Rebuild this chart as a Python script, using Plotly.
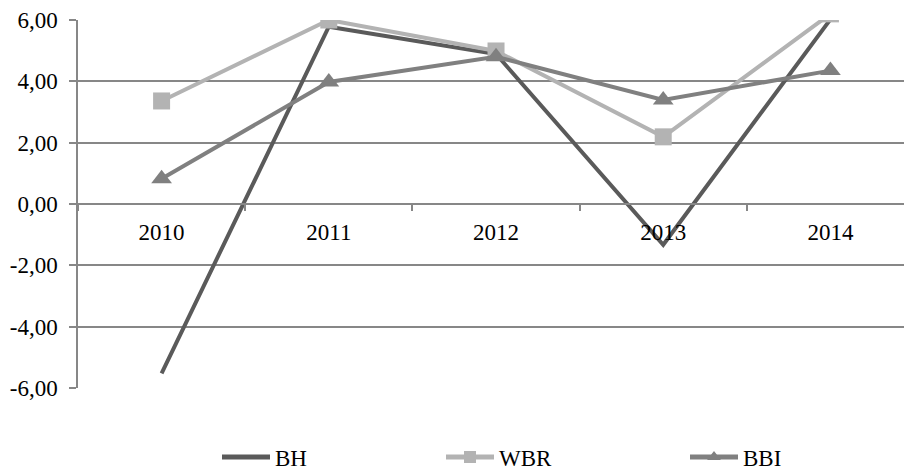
import plotly.graph_objects as go

years = ["2010", "2011", "2012", "2013", "2014"]
bh = [-5.52, 5.78, 4.89, -1.33, 6.02]
wbr = [3.36, 6.0, 4.99, 2.19, 6.2]
bbi = [0.82, 3.98, 4.8, 3.39, 4.35]
y_ticks = [-6, -4, -2, 0, 2, 4, 6]
y_tick_labels = ["-6,00", "-4,00", "-2,00", "0,00", "2,00", "4,00", "6,00"]

FONT = "Liberation Serif"
GRID = "#878787"
W, H = 904, 471
ML, MR, MT, MB = 78, 0, 20, 83
PW, PH = W - ML - MR, H - MT - MB

fig = go.Figure()
fig.add_trace(go.Scatter(x=years, y=bh, name="BH", mode="lines",
                         line=dict(color="#5a5a5a", width=4), legend="legend"))
fig.add_trace(go.Scatter(x=years, y=wbr, name="WBR", mode="lines+markers",
                         line=dict(color="#b3b3b3", width=4),
                         marker=dict(symbol="square", size=17, color="#b3b3b3"),
                         legend="legend2"))
fig.add_trace(go.Scatter(x=years, y=bbi, name="BBI", mode="lines+markers",
                         line=dict(color="#808080", width=4),
                         marker=dict(symbol="triangle-up", size=18, color="#808080"),
                         legend="legend3"))

def lx(px):
    return (px - ML) / PW

def ly(py):
    return (H - MB - py) / PH

leg_common = dict(orientation="h", xanchor="left", yanchor="middle",
                  font=dict(family=FONT, size=23, color="#000000"),
                  itemwidth=48, itemsizing="constant",
                  bgcolor="rgba(0,0,0,0)", borderwidth=0)

fig.update_layout(
    width=W, height=H,
    margin=dict(l=ML, r=MR, t=MT, b=MB, autoexpand=False),
    paper_bgcolor="white", plot_bgcolor="white",
    showlegend=True,
    font=dict(family=FONT, size=23, color="#000000"),
    legend=dict(x=lx(217), y=ly(457), **leg_common),
    legend2=dict(x=lx(441), y=ly(457), **leg_common),
    legend3=dict(x=lx(685), y=ly(457), **leg_common),
    xaxis=dict(
        type="category", range=[-0.5, 4.44], automargin=False,
        anchor="free", position=0.5,
        showline=True, linecolor=GRID, linewidth=1.5,
        showgrid=False, zeroline=False,
        tickson="boundaries", ticks="outside", ticklen=6, tickcolor=GRID, tickwidth=1.5,
        ticklabelstandoff=8,
        tickfont=dict(family=FONT, size=23, color="#000000"),
    ),
    yaxis=dict(
        range=[-6, 6], automargin=False,
        tickvals=y_ticks, ticktext=y_tick_labels,
        showline=True, linecolor=GRID, linewidth=1.5,
        showgrid=True, gridcolor=GRID, gridwidth=1.5,
        zeroline=False,
        ticks="outside", ticklen=7, tickcolor=GRID, tickwidth=1.5,
        ticklabelstandoff=7,
        tickfont=dict(family=FONT, size=23, color="#000000"),
    ),
)

fig.write_html("out.html", config={"displayModeBar": False},
               post_script="document.body.style.margin='0';document.body.style.overflow='hidden';")
